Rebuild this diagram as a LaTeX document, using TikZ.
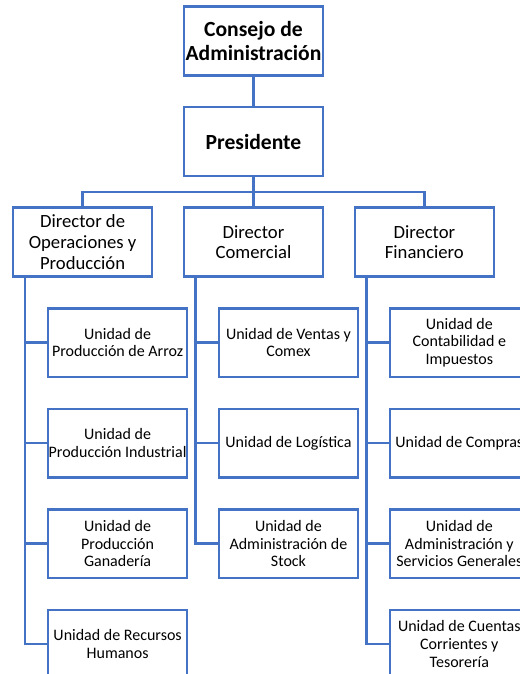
\documentclass[tikz,border=0pt]{standalone}
\usepackage{fontspec}
\setmainfont{Carlito}
\usepackage{tikz}
\usetikzlibrary{positioning, calc}
\definecolor{boxblue}{RGB}{68,114,196}

\begin{document}
\begin{tikzpicture}
\tikzstyle{orgbox}=[draw=boxblue, line width=1.9pt, fill=white, minimum width=104.25pt,
minimum height=51.5pt, inner sep=0.5pt, align=center, node distance=22pt]
\tikzstyle{topbox}=[orgbox, font=\fontsize{16.2}{17.6}\selectfont\bfseries]
\tikzstyle{dirbox}=[orgbox, font=\fontsize{14}{15.4}\selectfont]
\tikzstyle{unitbox}=[orgbox, font=\fontsize{12}{13.3}\selectfont]
\tikzstyle{link}=[draw=boxblue, line width=1.9pt]

\useasboundingbox (0,0) rectangle (390pt,-505.5pt);
\clip (0,0) rectangle (390pt,-505.5pt);

% top
\node (consejo) [topbox] at (190.1pt,-30.75pt) {Consejo de\\Administración};
\node (pres) [topbox, below=of consejo] {Presidente};

% directors
\node (dirc) [dirbox, below=of pres] {Director\\Comercial};
\node (dirop) [dirbox, left=of dirc] {Director de\\Operaciones y\\Producción};
\node (dirfin) [dirbox, right=of dirc] {Director\\Financiero};

% units operaciones
\node (uarroz) [unitbox, below=of dirop, xshift=26.25pt] {Unidad de\\Producción de Arroz};
\node (uind) [unitbox, below=of uarroz] {Unidad de\\Producción Industrial};
\node (ugan) [unitbox, below=of uind] {Unidad de\\Producción\\Ganadería};
\node (urrhh) [unitbox, below=of ugan] {Unidad de Recursos\\Humanos};

% units comercial
\node (uventas) [unitbox, below=of dirc, xshift=26.25pt] {Unidad de Ventas y\\Comex};
\node (ulog) [unitbox, below=of uventas] {Unidad de Logística};
\node (ustock) [unitbox, below=of ulog] {Unidad de\\Administración de\\Stock};

% units financiero
\node (ucont) [unitbox, below=of dirfin, xshift=26.25pt] {Unidad de\\Contabilidad e\\Impuestos};
\node (ucomp) [unitbox, below=of ucont] {Unidad de Compras};
\node (uadm) [unitbox, below=of ucomp] {Unidad de\\Administración y\\Servicios Generales};
\node (ucta) [unitbox, below=of uadm] {Unidad de Cuentas\\Corrientes y\\Tesorería};

% connections
\coordinate (bar) at ($(pres.south)!0.5!(dirc.north)$);
\draw[link] (consejo) -- (pres);
\draw[link] (pres) -- (dirc);
\draw[link] (dirop.north) |- (bar) -| (dirfin.north);

\foreach \u in {uarroz, uind, ugan, urrhh}
  \draw[link] ([xshift=9.75pt]dirop.south west) |- (\u.west);
\foreach \u in {uventas, ulog, ustock}
  \draw[link] ([xshift=9.75pt]dirc.south west) |- (\u.west);
\foreach \u in {ucont, ucomp, uadm, ucta}
  \draw[link] ([xshift=9.75pt]dirfin.south west) |- (\u.west);

\end{tikzpicture}
\end{document}
